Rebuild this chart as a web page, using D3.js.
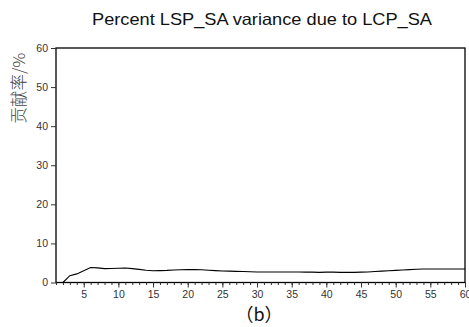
<!DOCTYPE html>
<html><head><meta charset="utf-8">
<script src="https://cdn.jsdelivr.net/npm/d3@7"></script>
<style>body{margin:0;background:#fff}svg{display:block}</style>
</head><body>
<svg id="c" width="469" height="327"></svg>
<script>
const titleText = "Percent LSP_SA variance due to LCP_SA";
const yLabel = "贡献率/%";
const subLabel = "（b）";
const periods = [2,3,4,5,6,7,8,9,10,11,12,13,14,15,16,17,18,19,20,21,22,23,24,25,26,27,28,29,30,31,32,33,34,35,36,37,38,39,40,41,42,43,44,45,46,47,48,49,50,51,52,53,54,55,56,57,58,59,60];
const values  = [0,1.75,2.2,3.0,3.85,3.75,3.55,3.6,3.65,3.7,3.55,3.35,3.15,3.0,3.05,3.1,3.2,3.25,3.3,3.3,3.25,3.15,3.05,2.95,2.9,2.85,2.8,2.75,2.7,2.7,2.7,2.7,2.7,2.7,2.7,2.65,2.65,2.6,2.65,2.65,2.6,2.6,2.6,2.65,2.7,2.8,2.9,3.0,3.1,3.2,3.3,3.4,3.45,3.45,3.45,3.45,3.45,3.45,3.45];
const yTicks = [0,10,20,30,40,50,60];
const xMajor = [5,10,15,20,25,30,35,40,45,50,55,60];

const svg = d3.select("#c");
const L=56, R=465, T=48, B=282.5;
const x = d3.scaleLinear().domain([1,60]).range([L,R]);
const y = d3.scaleLinear().domain([0,60]).range([B,T]);
const font = "'Liberation Sans', Arial, sans-serif";

svg.append("text").attr("x",262).attr("y",25).attr("text-anchor","middle")
  .attr("font-family",font).attr("font-size",16.5).attr("fill","#111")
  .attr("textLength",340).attr("lengthAdjust","spacingAndGlyphs").text(titleText);

// frame
svg.append("rect").attr("x",L).attr("y",T).attr("width",R-L).attr("height",B-T)
  .attr("fill","none").attr("stroke","#000").attr("stroke-width",1.3);

// y axis
const ya = svg.append("g").attr("transform",`translate(${L},0)`)
  .call(d3.axisLeft(y).tickValues(yTicks).tickSize(5).tickPadding(3));
ya.select(".domain").remove();
ya.selectAll("line").attr("stroke","#333");
ya.selectAll("text").attr("font-family",font).attr("font-size",10.5).attr("fill","#333");

// x axis minor
const minor = d3.range(1,61);
const xm = svg.append("g").attr("transform",`translate(0,${B})`)
  .call(d3.axisBottom(x).tickValues(minor).tickSize(2.5).tickFormat(""));
xm.select(".domain").remove();
xm.selectAll("line").attr("stroke","#333");
const xa = svg.append("g").attr("transform",`translate(0,${B})`)
  .call(d3.axisBottom(x).tickValues(xMajor).tickSize(5).tickPadding(3));
xa.select(".domain").remove();
xa.selectAll("line").attr("stroke","#333");
xa.selectAll("text").attr("font-family",font).attr("font-size",10.5).attr("fill","#333");

// line
const line = d3.line().x((d,i)=>x(periods[i])).y(d=>y(d));
svg.append("path").datum(values).attr("d",line).attr("fill","none")
  .attr("stroke","#000").attr("stroke-width",1.1);

// y label
svg.append("text").attr("transform","translate(25,88) rotate(-90)")
  .attr("text-anchor","middle").attr("font-family","'Noto Sans CJK SC', sans-serif")
  .attr("font-size",16.5).attr("font-weight",300).attr("fill","#444").text(yLabel);

svg.append("text").attr("x",259).attr("y",321).attr("text-anchor","middle")
  .attr("font-family","'Noto Sans CJK SC', "+font).attr("font-size",18).attr("fill","#111").text(subLabel);
</script>
</body></html>
